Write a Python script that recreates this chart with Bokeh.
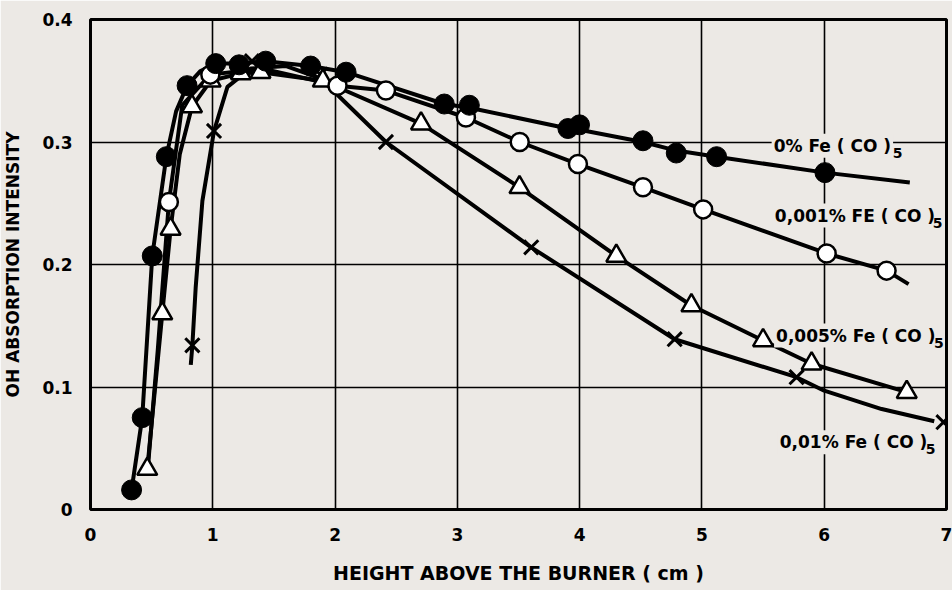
from bokeh.plotting import figure
from bokeh.models import Label, FixedTicker, Range1d
from bokeh.embed import file_html
from bokeh.resources import INLINE

# ---- data ----
# 0% Fe(CO)5 (filled circles)
s0_mx = [0.336, 0.423, 0.505, 0.62, 0.79, 1.024, 1.215, 1.433, 1.80, 2.09, 2.893, 3.098, 3.904, 3.999, 4.518, 4.79, 5.12, 6.006]
s0_my = [0.016, 0.075, 0.207, 0.288, 0.346, 0.364, 0.363, 0.366, 0.362, 0.357, 0.331, 0.330, 0.311, 0.314, 0.301, 0.291, 0.288, 0.275]
s0_lx = [0.336, 0.423, 0.505, 0.62, 0.70, 0.79, 0.90, 1.024, 1.215, 1.433, 1.80, 2.09, 2.893, 3.098, 3.904, 3.999, 4.518, 4.79, 5.12, 6.006, 6.70]
s0_ly = [0.016, 0.075, 0.207, 0.288, 0.325, 0.346, 0.358, 0.364, 0.364, 0.366, 0.362, 0.357, 0.331, 0.328, 0.311, 0.310, 0.300, 0.293, 0.288, 0.275, 0.267]

# 0,001% Fe(CO)5 (open circles)
s1_mx = [0.641, 0.98, 2.02, 2.416, 3.07, 3.51, 3.986, 4.518, 5.01, 6.02, 6.51]
s1_my = [0.251, 0.355, 0.346, 0.342, 0.320, 0.300, 0.282, 0.263, 0.245, 0.209, 0.195]
s1_lx = [0.47, 0.55, 0.641, 0.75, 0.98, 1.4, 2.02, 2.416, 3.07, 3.51, 3.986, 4.518, 5.01, 6.02, 6.51, 6.69]
s1_ly = [0.035, 0.13, 0.251, 0.33, 0.355, 0.360, 0.346, 0.342, 0.320, 0.300, 0.282, 0.263, 0.245, 0.209, 0.195, 0.184]

# 0,005% Fe(CO)5 (open triangles)
s2_mx = [0.464, 0.587, 0.655, 0.83, 0.983, 1.23, 1.39, 1.9, 2.703, 3.508, 4.30, 4.914, 5.50, 5.897, 6.675]
s2_my = [0.033, 0.160, 0.229, 0.329, 0.350, 0.356, 0.357, 0.350, 0.315, 0.263, 0.207, 0.1665, 0.138, 0.119, 0.0958]
s2_lx = [0.464, 0.587, 0.655, 0.73, 0.83, 0.983, 1.23, 1.39, 1.9, 2.703, 3.508, 4.30, 4.914, 5.50, 5.897, 6.675]
s2_ly = [0.033, 0.160, 0.229, 0.290, 0.329, 0.350, 0.356, 0.357, 0.350, 0.315, 0.263, 0.207, 0.1665, 0.138, 0.119, 0.0958]

# 0,01% Fe(CO)5 (crosses)
s3_mx = [0.833, 1.01, 1.32, 1.88, 2.416, 3.604, 4.777, 5.774, 6.975]
s3_my = [0.134, 0.309, 0.366, 0.355, 0.300, 0.214, 0.139, 0.108, 0.0713]
s3_lx = [0.82, 0.833, 0.86, 0.915, 1.01, 1.12, 1.31, 1.6, 1.88, 2.416, 3.604, 4.777, 5.774, 6.0, 6.47, 6.90]
s3_ly = [0.118, 0.134, 0.181, 0.252, 0.309, 0.345, 0.360, 0.362, 0.352, 0.300, 0.214, 0.139, 0.108, 0.097, 0.082, 0.072]

x_ticks = [0, 1, 2, 3, 4, 5, 6, 7]
y_ticks = [0, 0.1, 0.2, 0.3, 0.4]
y_tick_labels = ["0", "0.1", "0.2", "0.3", "0.4"]

labels = ["0% Fe ( CO )", "0,001% FE ( CO )", "0,005% Fe ( CO )", "0,01% Fe ( CO )"]
label_sub = ["5", "5", "5", "5"]
label_x = [5.57, 5.58, 5.59, 5.62]
label_y = [0.297, 0.240, 0.142, 0.055]
sub_offset = [121, 160, 160, 148]

BG = "#ece9e5"
FONT = "DejaVu Sans"

p = figure(width=952, height=590, x_range=Range1d(0, 7), y_range=Range1d(0, 0.4),
           output_backend="svg", toolbar_location=None,
           min_border_left=90, min_border_right=6, min_border_top=19, min_border_bottom=81)
p.background_fill_color = BG
p.border_fill_color = BG
p.outline_line_color = "black"
p.outline_line_width = 3

for ax in (p.xaxis[0], p.yaxis[0]):
    ax.axis_line_color = None
    ax.major_tick_line_color = None
    ax.minor_tick_line_color = None
    ax.major_label_text_font = FONT
    ax.major_label_text_font_style = "bold"
    ax.major_label_text_font_size = "17px"
    ax.major_label_text_color = "black"
    ax.axis_label_text_font = FONT
    ax.axis_label_text_font_style = "bold"
    ax.axis_label_text_color = "black"

p.xaxis.ticker = FixedTicker(ticks=x_ticks)
p.yaxis.ticker = FixedTicker(ticks=y_ticks)
p.yaxis.major_label_overrides = {t: s for t, s in zip(y_ticks, y_tick_labels)}
p.xaxis.major_label_standoff = 12
p.yaxis.major_label_standoff = 12
p.xaxis.axis_label = "HEIGHT ABOVE THE BURNER ( cm )"
p.yaxis.axis_label = "OH ABSORPTION INTENSITY"
p.xaxis.axis_label_text_font_size = "19px"
p.yaxis.axis_label_text_font_size = "17px"
p.xaxis.axis_label_standoff = 18
p.yaxis.axis_label_standoff = 16

p.xgrid.ticker = FixedTicker(ticks=x_ticks)
p.ygrid.ticker = FixedTicker(ticks=y_ticks)
for g in (p.xgrid[0], p.ygrid[0]):
    g.grid_line_color = "black"
    g.grid_line_width = 1.6
    g.grid_line_alpha = 1.0

LW = 4
p.line(s0_lx, s0_ly, line_color="black", line_width=LW)
p.line(s1_lx, s1_ly, line_color="black", line_width=LW)
p.line(s2_lx, s2_ly, line_color="black", line_width=LW)
p.line(s3_lx, s3_ly, line_color="black", line_width=LW)

p.scatter(s3_mx, s3_my, marker="x", size=20, line_color="black", line_width=3)
p.scatter(s2_mx, s2_my, marker="triangle", size=20, fill_color="white", line_color="black", line_width=2.5)
p.scatter(s1_mx, s1_my, marker="circle", size=18, fill_color="white", line_color="black", line_width=2.5)
p.scatter(s0_mx, s0_my, marker="circle", size=20, fill_color="black", line_color="black")

for t, s, lx, ly, off in zip(labels, label_sub, label_x, label_y, sub_offset):
    p.add_layout(Label(x=lx, y=ly, text=t, text_font=FONT, text_font_style="bold",
                       text_font_size="17px", text_color="black", text_baseline="middle",
                       text_align="left", background_fill_color=BG, padding=2))
    p.add_layout(Label(x=lx, y=ly, x_offset=off, y_offset=-7, text=s, text_font=FONT,
                       text_font_style="bold", text_font_size="14px", text_color="black",
                       text_baseline="middle", text_align="left"))

open("out.html", "w").write(file_html(p, INLINE))
